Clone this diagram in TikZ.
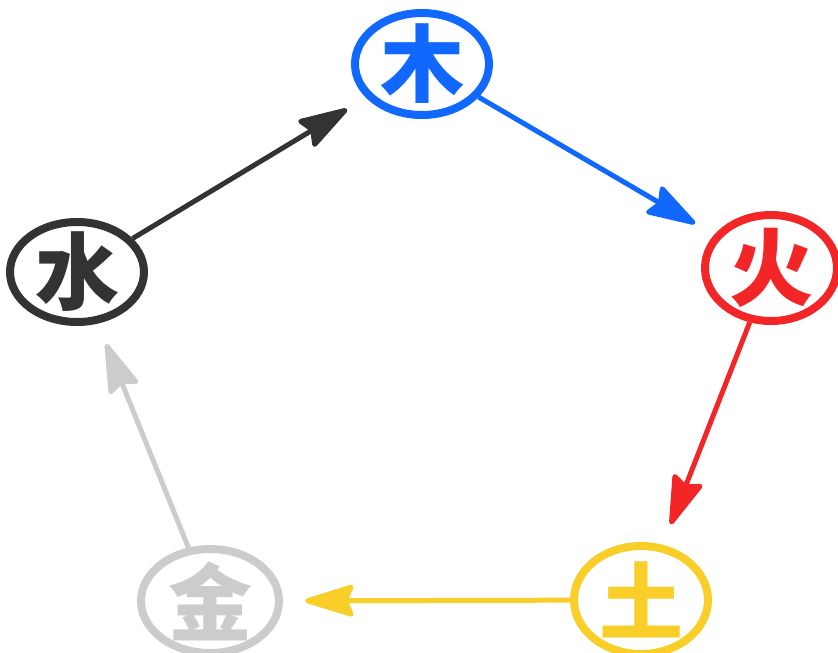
\documentclass[tikz,border=0pt]{standalone}
\usepackage{fontspec}
\newfontfamily\cjk{Noto Sans CJK SC}
\usetikzlibrary{shapes.geometric,arrows.meta}
\definecolor{cmu}{RGB}{17,104,255}
\definecolor{chuo}{RGB}{242,38,38}
\definecolor{ctu}{RGB}{250,206,40}
\definecolor{cjin}{RGB}{204,204,204}
\definecolor{cshui}{RGB}{51,51,51}
\tikzset{
  ring/.style={draw=#1, line width=8pt, ellipse, inner sep=0pt},
  glyph/.style={text=#1, font=\cjk\bfseries\fontsize{84}{84}\selectfont},
  flow/.style={draw=#1, line width=5pt,
    -{Stealth[length=56pt,width=34pt,inset=7pt,round]}, shorten >=22pt},
}
\begin{document}
\begin{tikzpicture}[x=1pt,y=-1pt]
\useasboundingbox (0,0) rectangle (838,653);
\node[ring=cmu, minimum width=134pt, minimum height=102pt] (mu) at (422,64) {};
\node[glyph=cmu] (tmu) at (mu) {木};
\node[ring=chuo, minimum width=132pt, minimum height=106pt] (huo) at (771,268) {};
\node[glyph=chuo] (thuo) at (huo) {火};
\node[ring=cshui, minimum width=134pt, minimum height=100pt] (shui) at (77,272) {};
\node[glyph=cshui] (tshui) at (shui) {水};
\node[ring=ctu, minimum width=134pt, minimum height=108pt] (tu) at (641,600) {};
\node[glyph=ctu] (ttu) at (tu) {土};
\node[ring=cjin, minimum width=138pt, minimum height=104pt] (jin) at (210,601) {};
\node[glyph=cjin] (tjin) at (jin) {金};
\draw[flow=cshui] (shui) -- (mu);
\draw[flow=cmu] (mu) -- (huo);
\draw[flow=chuo] (huo) -- (tu);
\draw[flow=ctu] (tu) -- (jin);
\draw[flow=cjin] (jin) -- (shui);
\end{tikzpicture}
\end{document}
